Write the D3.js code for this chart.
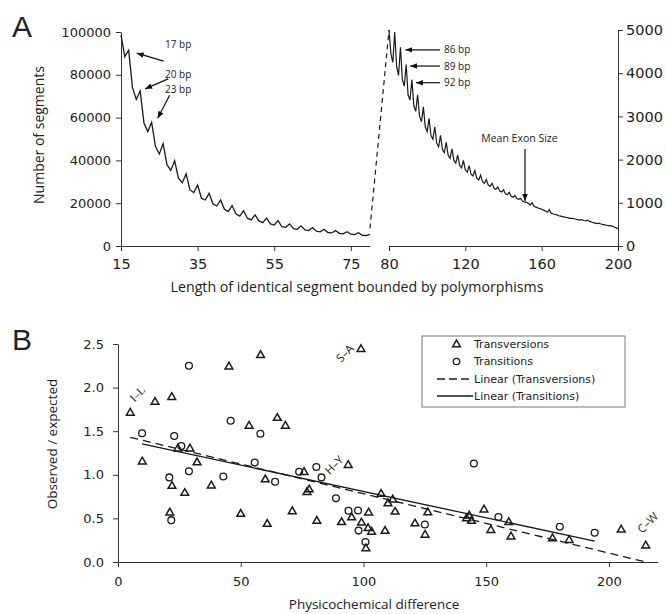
<!DOCTYPE html>
<html>
<head>
<meta charset="utf-8">
<script src="https://cdn.jsdelivr.net/npm/d3@7"></script>
<style>
  body { margin: 0; background: #fff; }
  svg text { fill: #222; }
  .axis path, .axis line { stroke: #333; stroke-width: 1; }
  .axis text { font-family: "DejaVu Sans", sans-serif; font-size: 13px; fill: #222; }
  .axis.big text { font-size: 14.5px; }
</style>
</head>
<body>
<div id="chart"></div>
<script>
// ---- panel A: segment lengths (bp) and counts ----
const shortLengths = d3.range(15, 81);
const shortCounts = [
  98500, 88500, 91500, 74000, 68500, 72500, 57500, 53500, 57800, 46500,
  43000, 47800, 38000, 35300, 39800, 31700, 29600, 33700, 26200, 25000,
  28500, 22300, 21500, 24600, 19700, 18700, 21500, 17200, 16100, 18900,
  15000, 14000, 16500, 13000, 12200, 14500, 11700, 10900, 13000, 10300,
  9800, 11900, 9000, 8700, 10300, 8100, 7800, 9400, 7500, 7200,
  8600, 6900, 6600, 7800, 6300, 6100, 7200, 5900, 5700, 6700,
  5500, 5300, 6200, 5000, 4900, 5400
];
const longLengths = d3.range(80, 201);
const longCounts = [
  5000, 4450, 4250, 4950, 4150, 3950, 4600, 3850, 3700, 4200,
  3500, 3380, 3850, 3250, 3120, 3500, 3000, 2880, 3220, 2760,
  2650, 2950, 2560, 2470, 2760, 2380, 2300, 2560, 2230, 2160,
  2400, 2100, 2030, 2250, 1980, 1920, 2110, 1870, 1810, 1980,
  1760, 1710, 1860, 1660, 1620, 1750, 1570, 1530, 1640, 1490,
  1450, 1540, 1410, 1380, 1450, 1340, 1310, 1370, 1270, 1250,
  1300, 1210, 1190, 1240, 1150, 1130, 1170, 1100, 1080, 1100,
  1040, 1020, 1010, 990, 950, 1000, 920, 900, 880, 870,
  850, 830, 810, 780, 840, 760, 740, 730, 720, 700,
  690, 680, 670, 660, 650, 640, 640, 630, 620, 610,
  600, 610, 590, 580, 600, 570, 560, 540, 530, 520,
  530, 510, 500, 490, 480, 470, 470, 460, 440, 420,
  400
];
const shortTicks = [15, 35, 55, 75];
const longTicks = [80, 120, 160, 200];
const shortCountTicks = [0, 20000, 40000, 60000, 80000, 100000];
const longCountTicks = [0, 1000, 2000, 3000, 4000, 5000];
const shortPeaks = [17, 20, 23];
const longPeaks = [86, 89, 92];
const meanExonSize = 151;

// ---- panel B: physicochemical difference vs observed/expected ----
const transversionX = [5, 15.1, 21.9, 45.2, 53.4, 9.9, 24.4, 29.3, 32.2, 22, 27.2, 38, 21.1, 50,
  58.1, 99, 64.9, 68.2, 93.8, 60, 75.8, 77.9, 77, 71, 60.8, 81, 91.1, 95.2, 102.1, 99.2,
  101.9, 103.3, 101, 107.2, 108.8, 110, 111.9, 112.9, 121, 126.2, 125.1, 143.1, 144, 142,
  149.1, 151.9, 159.2, 160.1, 177, 183.8, 205, 215];
const transversionY = [1.71, 1.835, 1.89, 2.24, 1.56, 1.15, 1.30, 1.30, 1.14, 0.87, 0.79, 0.875, 0.565, 0.55,
  2.37, 2.44, 1.65, 1.56, 1.11, 0.945, 1.03, 0.83, 0.80, 0.58, 0.435, 0.47, 0.455, 0.51, 0.565, 0.45,
  0.386, 0.345, 0.155, 0.78, 0.355, 0.67, 0.715, 0.575, 0.44, 0.567, 0.31, 0.53, 0.47, 0.50,
  0.60, 0.365, 0.455, 0.29, 0.27, 0.25, 0.37, 0.187];
const transitionX = [28.9, 45.9, 9.8, 22.9, 25.8, 28.9, 20.9, 42.9, 21.7, 55.7, 58, 64, 73.8,
  80.8, 82.9, 88.8, 93.9, 97.8, 98, 100.8, 125, 145, 155, 180, 194.2];
const transitionY = [2.25, 1.62, 1.476, 1.445, 1.33, 1.04, 0.97, 0.98, 0.48, 1.14, 1.47, 0.92, 1.035,
  1.09, 0.97, 0.73, 0.588, 0.59, 0.36, 0.228, 0.43, 1.13, 0.515, 0.405, 0.335];
// linear trend lines: [intercept, slope]
const transversionFit = [1.464, -0.00684];
const transitionFit = [1.413, -0.00604];
const pairLabels = ["I\u2013L", "S\u2013A", "H\u2013Y", "C\u2013W"];
const pairPoints = [[5, 1.71], [99, 2.44], [93.8, 1.11], [215, 0.187]];
const diffTicks = [0, 50, 100, 150, 200];
const ratioTicks = [0, 0.5, 1.0, 1.5, 2.0, 2.5];
const legendLabels = ["Transversions", "Transitions", "Linear (Transversions)", "Linear (Transitions)"];

const svg = d3.select("#chart").append("svg")
  .attr("width", 666)
  .attr("height", 614);

svg.append("defs").append("marker")
  .attr("id", "arrow")
  .attr("viewBox", "0 0 10 10")
  .attr("refX", 10).attr("refY", 5)
  .attr("markerWidth", 7).attr("markerHeight", 7)
  .attr("markerUnits", "userSpaceOnUse")
  .attr("orient", "auto")
  .append("path").attr("d", "M0,1 L10,5 L0,9 Z").attr("fill", "#111");

// ================= Panel A =================
const xS = d3.scaleLinear().domain([15, 80]).range([121, 370]);
const yS = d3.scaleLinear().domain([0, 100000]).range([246, 32]);
const xLg = d3.scaleLinear().domain([80, 200]).range([389, 618]);
const yLg = d3.scaleLinear().domain([0, 5000]).range([246, 30]);

svg.append("g").attr("class", "axis big")
  .attr("transform", "translate(0,246)")
  .call(d3.axisBottom(xS).tickValues(shortTicks).tickSize(5).tickSizeOuter(0).tickPadding(8));
svg.append("g").attr("class", "axis")
  .attr("transform", "translate(121,0)")
  .call(d3.axisLeft(yS).tickValues(shortCountTicks).tickSize(5).tickSizeOuter(0).tickPadding(5)
    .tickFormat(d3.format("d")));
svg.append("g").attr("class", "axis big")
  .attr("transform", "translate(0,246)")
  .call(d3.axisBottom(xLg).tickValues(longTicks).tickSize(5).tickSizeOuter(0).tickPadding(8));
svg.append("g").attr("class", "axis big")
  .attr("transform", "translate(618,0)")
  .call(d3.axisRight(yLg).tickValues(longCountTicks).tickSize(5).tickSizeOuter(0).tickPadding(3)
    .tickFormat(d3.format("d")));

const shortLine = d3.line().x((d, i) => xS(shortLengths[i])).y(d => yS(d));
const longLine = d3.line().x((d, i) => xLg(longLengths[i])).y(d => yLg(d));

svg.append("path").datum(shortCounts)
  .attr("d", shortLine)
  .attr("fill", "none").attr("stroke", "#1a1a1a").attr("stroke-width", 1.3);
svg.append("path").datum(longCounts)
  .attr("d", longLine)
  .attr("fill", "none").attr("stroke", "#1a1a1a").attr("stroke-width", 1.2);

// dashed link between the two scales
svg.append("line")
  .attr("x1", xS(shortLengths[shortLengths.length - 1])).attr("y1", yS(shortCounts[shortCounts.length - 1]) - 6)
  .attr("x2", xLg(longLengths[0])).attr("y2", yLg(longCounts[0]))
  .attr("stroke", "#1a1a1a").attr("stroke-width", 1.2).attr("stroke-dasharray", "5,4");

svg.append("text").attr("x", 12).attr("y", 37)
  .style("font-family", "Liberation Sans, Arial, sans-serif").style("font-size", "30px")
  .text("A");

svg.append("text")
  .attr("transform", "translate(44,135) rotate(-90)")
  .attr("text-anchor", "middle")
  .style("font-family", "Open Sans, sans-serif").style("font-size", "14px")
  .text("Number of segments");

svg.append("text").attr("x", 357).attr("y", 292)
  .attr("text-anchor", "middle")
  .style("font-family", "Open Sans, sans-serif").style("font-size", "14.2px")
  .text("Length of identical segment bounded by polymorphisms");

// peak annotations, short segments
const shortOffsets = [[8, 3, 27, 8, -9], [5, -2, 23, -10, -15], [6, -4, 12, -23, -29]];
shortPeaks.forEach((p, i) => {
  const px = xS(p), py = yS(shortCounts[shortLengths.indexOf(p)]);
  const o = shortOffsets[i];
  const tx = px + o[0], ty = py + o[1];
  svg.append("line")
    .attr("x1", tx + o[2]).attr("y1", ty + o[3])
    .attr("x2", tx).attr("y2", ty)
    .attr("stroke", "#111").attr("stroke-width", 1.2).attr("marker-end", "url(#arrow)");
  svg.append("text")
    .attr("x", 165).attr("y", ty + o[4] + 4)
    .style("font-family", "Open Sans, sans-serif").style("font-size", "10px")
    .text(p + " bp");
});

// peak annotations, long segments
const longTips = [[5, 2.5], [4, 1.5], [4, 3]];
longPeaks.forEach((p, i) => {
  const px = xLg(p), py = yLg(longCounts[longLengths.indexOf(p)]);
  const tx = px + longTips[i][0], ty = py + longTips[i][1];
  svg.append("line")
    .attr("x1", 440).attr("y1", ty)
    .attr("x2", tx).attr("y2", ty)
    .attr("stroke", "#111").attr("stroke-width", 1.2).attr("marker-end", "url(#arrow)");
  svg.append("text")
    .attr("x", 444).attr("y", ty + 3.5)
    .style("font-family", "Open Sans, sans-serif").style("font-size", "10px")
    .text(p + " bp");
});

// mean exon size
const exonX = xLg(meanExonSize);
const exonY = yLg(longCounts[longLengths.indexOf(meanExonSize)]);
svg.append("line")
  .attr("x1", exonX + 0.5).attr("y1", exonY - 53)
  .attr("x2", exonX + 0.5).attr("y2", exonY - 1)
  .attr("stroke", "#111").attr("stroke-width", 1.2).attr("marker-end", "url(#arrow)");
svg.append("text")
  .attr("x", exonX - 5).attr("y", exonY - 60)
  .attr("text-anchor", "middle")
  .style("font-family", "Open Sans, sans-serif").style("font-size", "10.5px")
  .text("Mean Exon Size");

// ================= Panel B =================
const xB = d3.scaleLinear().domain([0, 220]).range([118, 658]);
const yB = d3.scaleLinear().domain([0, 2.5]).range([562, 344]);

svg.append("g").attr("class", "axis")
  .attr("transform", "translate(0,562)")
  .call(d3.axisBottom(xB).tickValues(diffTicks).tickSize(5).tickSizeOuter(0).tickPadding(10));
svg.append("g").attr("class", "axis")
  .attr("transform", "translate(118,0)")
  .call(d3.axisLeft(yB).tickValues(ratioTicks).tickSize(5).tickSizeOuter(0).tickPadding(9)
    .tickFormat(d3.format(".1f")));

svg.append("text").attr("x", 12).attr("y", 350)
  .style("font-family", "Liberation Sans, Arial, sans-serif").style("font-size", "30px")
  .text("B");

svg.append("text")
  .attr("transform", "translate(57,444) rotate(-90)")
  .attr("text-anchor", "middle")
  .style("font-family", "Open Sans, sans-serif").style("font-size", "13.5px")
  .text("Observed / expected");

svg.append("text").attr("x", 374).attr("y", 609)
  .attr("text-anchor", "middle")
  .style("font-family", "Open Sans, sans-serif").style("font-size", "13.5px")
  .text("Physicochemical difference");

// trend lines
function trend(fit, xs) {
  const x0 = d3.min(xs), x1 = d3.max(xs);
  return [[x0, fit[0] + fit[1] * x0], [x1, Math.max(0, fit[0] + fit[1] * x1)]];
}
const fitLine = d3.line().x(d => xB(d[0])).y(d => yB(d[1]));
svg.append("path").datum(trend(transversionFit, transversionX))
  .attr("d", fitLine).attr("fill", "none")
  .attr("stroke", "#1a1a1a").attr("stroke-width", 1.3).attr("stroke-dasharray", "8,5");
svg.append("path").datum(trend(transitionFit, transitionX))
  .attr("d", fitLine).attr("fill", "none")
  .attr("stroke", "#1a1a1a").attr("stroke-width", 1.3);

const tri = d3.symbol(d3.symbolTriangle, 26);
svg.append("g").selectAll("path")
  .data(transversionX)
  .enter()
  .append("path")
  .attr("d", tri)
  .attr("transform", (d, i) => "translate(" + xB(d) + "," + yB(transversionY[i]) + ")")
  .attr("fill", "none").attr("stroke", "#1a1a1a").attr("stroke-width", 1.5);

svg.append("g").selectAll("circle")
  .data(transitionX)
  .enter()
  .append("circle")
  .attr("cx", d => xB(d))
  .attr("cy", (d, i) => yB(transitionY[i]))
  .attr("r", 3.4)
  .attr("fill", "none").attr("stroke", "#1a1a1a").attr("stroke-width", 1.3);

// amino acid pair labels
const pairOffsets = [[7, -19], [-16, 4], [-14, 0], [2, -23]];
pairLabels.forEach((t, i) => {
  const cx = xB(pairPoints[i][0]) + pairOffsets[i][0];
  const cy = yB(pairPoints[i][1]) + pairOffsets[i][1];
  svg.append("text")
    .attr("transform", "translate(" + cx + "," + cy + ") rotate(-45)")
    .attr("text-anchor", "middle").attr("dy", "0.35em")
    .style("font-family", i === 0 ? "Liberation Serif, serif" : "Open Sans, sans-serif")
    .style("font-size", "11.5px")
    .text(t);
});

// legend
const legend = svg.append("g");
legend.append("rect")
  .attr("x", 422).attr("y", 336).attr("width", 203).attr("height", 71)
  .attr("fill", "#fff").attr("stroke", "#777").attr("stroke-width", 1);
const rowY = [344.5, 361.5, 379, 396];
legend.append("path").attr("d", d3.symbol(d3.symbolTriangle, 26))
  .attr("transform", "translate(456.5," + rowY[0] + ")")
  .attr("fill", "none").attr("stroke", "#1a1a1a").attr("stroke-width", 1.5);
legend.append("circle").attr("cx", 456.5).attr("cy", rowY[1]).attr("r", 3.2)
  .attr("fill", "none").attr("stroke", "#1a1a1a").attr("stroke-width", 1.3);
legend.append("line").attr("x1", 437).attr("x2", 473).attr("y1", rowY[2]).attr("y2", rowY[2])
  .attr("stroke", "#1a1a1a").attr("stroke-width", 1.3).attr("stroke-dasharray", "8,4");
legend.append("line").attr("x1", 437).attr("x2", 473).attr("y1", rowY[3]).attr("y2", rowY[3])
  .attr("stroke", "#1a1a1a").attr("stroke-width", 1.3);
legendLabels.forEach((t, i) => {
  legend.append("text")
    .attr("x", 474).attr("y", rowY[i]).attr("dy", "0.35em")
    .style("font-family", "DejaVu Sans, sans-serif").style("font-size", "11px")
    .text(t);
});
</script>
</body>
</html>
